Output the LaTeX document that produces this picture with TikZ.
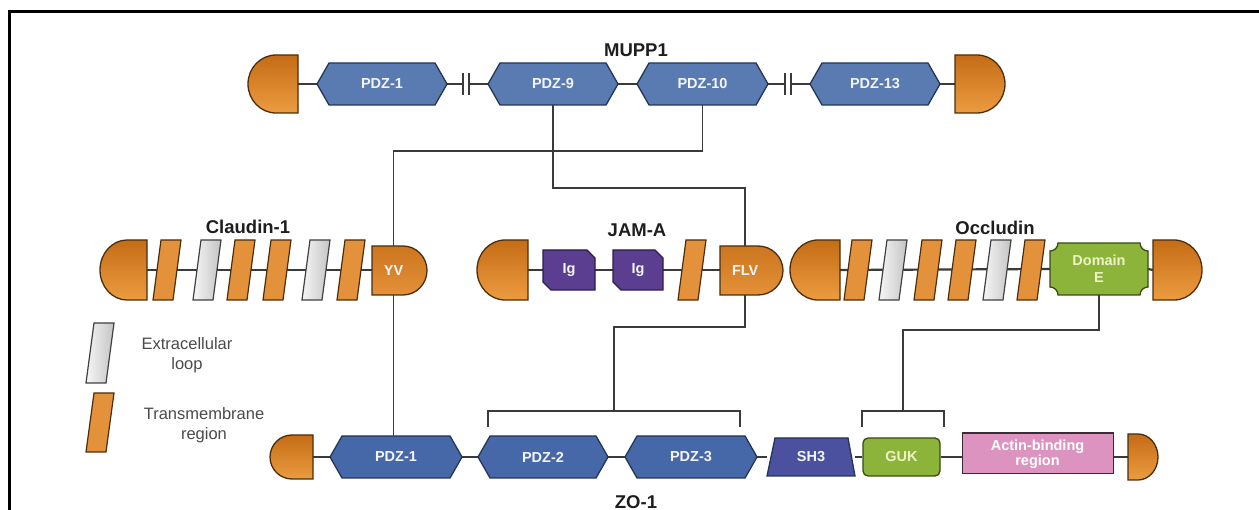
\documentclass[tikz,border=0pt]{standalone}
\usepackage{fontspec}
\setmainfont{Liberation Sans}
\usetikzlibrary{backgrounds}
\definecolor{orD}{HTML}{C46C16}
\definecolor{orL}{HTML}{EC9C40}
\definecolor{orB}{HTML}{4A2E0C}
\definecolor{orF}{HTML}{E3913A}
\definecolor{bluF}{HTML}{5A7BB1}
\definecolor{bluZ}{HTML}{4768A8}
\definecolor{bluB}{HTML}{243553}
\definecolor{purF}{HTML}{5B3E8F}
\definecolor{purB}{HTML}{2B1C4A}
\definecolor{shF}{HTML}{4B509F}
\definecolor{grnF}{HTML}{8DB43A}
\definecolor{grnB}{HTML}{3A4A16}
\definecolor{grnT}{HTML}{EEF2C4}
\definecolor{pnkF}{HTML}{DC93C0}
\definecolor{pnkB}{HTML}{3C2A34}
\definecolor{gryL}{HTML}{F6F6F6}
\definecolor{gryD}{HTML}{C4C4C4}
\definecolor{lnC}{HTML}{3A3A3A}
\definecolor{txC}{HTML}{1E1E1E}
\definecolor{lgC}{HTML}{4A4A4A}
\definecolor{bxT}{HTML}{F2F5FB}

\newcommand\capL[7]{% name,x1,x2,y1,y2,rx,style
  \pgfmathsetmacro\cYm{(#4+#5)/2}\pgfmathsetmacro\cRy{(#5-#4)/2}
  \path[#7] (#3,#4) -- (#2+#6,#4) .. controls (#2+0.448*#6,#4) and (#2,\cYm-0.552*\cRy) .. (#2,\cYm)
    .. controls (#2,\cYm+0.552*\cRy) and (#2+0.448*#6,#5) .. (#2+#6,#5) -- (#3,#5) -- cycle;
  \node[holdn, minimum width=#3-#2, minimum height=#5-#4] (#1) at ({(#2+#3)/2},\cYm) {};
}
\newcommand\capR[8]{% name,x1,x2,y1,y2,rx,text,style
  \pgfmathsetmacro\cYm{(#4+#5)/2}\pgfmathsetmacro\cRy{(#5-#4)/2}
  \path[#8] (#2,#4) -- (#3-#6,#4) .. controls (#3-0.448*#6,#4) and (#3,\cYm-0.552*\cRy) .. (#3,\cYm)
    .. controls (#3,\cYm+0.552*\cRy) and (#3-0.448*#6,#5) .. (#3-#6,#5) -- (#2,#5) -- cycle;
  \node[boxt, minimum width=#3-#2-#6/2, minimum height=#5-#4] (#1) at ({(#2+#3)/2-#6/4},\cYm) {#7};
}
\newcommand\hexb[7]{% name,x1,x2,y1,y2,style,text
  \pgfmathsetmacro\cYm{(#4+#5)/2}
  \path[#6] (#2,\cYm) -- (#2+12,#4) -- (#3-12,#4) -- (#3,\cYm) -- (#3-12,#5) -- (#2+12,#5) -- cycle;
  \node[boxt, minimum width=#3-#2, minimum height=#5-#4] (#1) at ({(#2+#3)/2},\cYm) {#7};
}
\newcommand\igb[5]{% name,x1,x2,y1,y2
  \path[igsty] (#2,#4) -- (#3-8,#4) -- (#3,#4+8) -- (#3,#5) -- (#2+8,#5) -- (#2,#5-8) -- cycle;
  \node[boxt, minimum width=#3-#2, minimum height=#5-#4] (#1) at ({(#2+#3)/2},{(#4+#5)/2}) {Ig};
}
\newcommand\tmbar[4]{% xc,y1,y2,style
  \path[#4] (#1-14,#3) -- (#1+6,#3) -- (#1+14,#2) -- (#1-6,#2) -- cycle;
}

\begin{document}
\begin{tikzpicture}[x=1pt,y=-1pt,
  capsty/.style={draw=orB, line width=1.3pt, top color=orD, bottom color=orL},
  capc/.style={draw=orB, line width=1.3pt, top color=orD!80!orL, bottom color=orF},
  hexM/.style={draw=bluB, line width=1.3pt, fill=bluF},
  hexZ/.style={draw=bluB, line width=1.3pt, fill=bluZ},
  tmo/.style={draw=orB, line width=1.2pt, fill=orF},
  tmg/.style={draw=black!75, line width=1.2pt, left color=gryL, right color=gryD},
  igsty/.style={draw=purB, line width=1.3pt, fill=purF},
  holdn/.style={inner sep=0pt, draw=none},
  boxt/.style={holdn, text=bxT, font=\bfseries\fontsize{14.5}{16}\selectfont},
  ttl/.style={text=txC, font=\bfseries\fontsize{18.5}{20}\selectfont},
  legt/.style={text=lgC, align=center, font=\fontsize{16.5}{20}\selectfont},
  bb/.style={draw=lnC, line width=2.2pt},
  conn/.style={draw=lnC, line width=1.6pt},
  tick/.style={draw=lnC, line width=1.6pt},
]
\useasboundingbox (0,0) rectangle (1259,510);

% ---------- MUPP1 ----------
\capL{m0}{248}{298}{55}{113}{28}{capsty}
\hexb{mp1}{317}{447}{63}{105}{hexM}{PDZ-1}
\hexb{mp9}{488}{618}{63}{105}{hexM}{PDZ-9}
\hexb{mp10}{637}{768}{63}{105}{hexM}{PDZ-10}
\hexb{mp13}{810}{940}{63}{105}{hexM}{PDZ-13}
\capR{m5}{955}{1005}{55}{113}{28}{}{capsty}
\coordinate (k1a) at (463,84); \coordinate (k1b) at (469,84);
\coordinate (k2a) at (785,84); \coordinate (k2b) at (791,84);
\foreach \k in {k1a,k1b,k2a,k2b} \draw[tick] (\k) ++(0,-11) -- ++(0,22);
\node[ttl] (lmupp) at (636,50) {MUPP1};

% ---------- Claudin-1 ----------
\capL{c0}{100}{147}{240}{300}{27}{capsty}
\tmbar{167}{240}{300}{tmo}
\tmbar{207}{240}{300}{tmg}
\tmbar{241}{240}{300}{tmo}
\tmbar{277}{240}{300}{tmo}
\tmbar{316}{240}{300}{tmg}
\tmbar{351}{240}{300}{tmo}
\capR{yv}{372}{427}{246}{295}{24}{YV}{capc}
\node[ttl] (lcla) at (248,227) {Claudin-1};

% ---------- JAM-A ----------
\capL{j0}{477}{528}{240}{300}{28}{capsty}
\igb{ig1}{543}{595}{250}{290}
\igb{ig2}{613}{663}{250}{290}
\tmbar{692}{240}{300}{tmo}
\capR{flv}{720}{783}{246}{295}{25}{FLV}{capc}
\node[ttl] (ljam) at (637,230) {JAM-A};

% ---------- Occludin ----------
\capL{o0}{790}{840}{240}{300}{28}{capsty}
\tmbar{858}{240}{300}{tmo}
\tmbar{893}{240}{300}{tmg}
\tmbar{928}{240}{300}{tmo}
\tmbar{962}{240}{300}{tmo}
\tmbar{997}{240}{300}{tmg}
\tmbar{1031}{240}{300}{tmo}
\path[draw=grnB, line width=1.3pt, fill=grnF]
  (1058,243) -- (1140,243) .. controls (1140,247.4) and (1143.6,251) .. (1148,251)
  -- (1148,287) .. controls (1143.6,287) and (1140,290.6) .. (1140,295)
  -- (1058,295) .. controls (1058,290.6) and (1054.4,287) .. (1050,287)
  -- (1050,251) .. controls (1054.4,251) and (1058,247.4) .. (1058,243) -- cycle;
\node[holdn, text=grnT, align=center, font=\bfseries\fontsize{14.5}{17}\selectfont,
  minimum width=98, minimum height=52] (dome) at (1099,269) {Domain\\E};
\capR{o7}{1153}{1202}{240}{300}{28}{}{capsty}
\node[ttl] (locc) at (995,228) {Occludin};

% ---------- legend ----------
\tmbar{100}{323}{383}{tmg}
\tmbar{100}{393}{452}{tmo}
\node[legt] (lg1) at (187,355) {Extracellular\\loop};
\node[legt] (lg2) at (204,425) {Transmembrane\\region};

% ---------- ZO-1 ----------
\capL{z0}{270}{313}{435}{479}{22}{capsty}
\hexb{zp1}{330}{462}{436}{478}{hexZ}{PDZ-1}
\hexb{zp2}{478}{608}{436}{478}{hexZ}{PDZ-2}
\hexb{zp3}{625}{757}{436}{478}{hexZ}{PDZ-3}
\path[draw=bluB, line width=1.3pt, fill=shF] (767,476) -- (855,476) -- (848,438) -- (775,438) -- cycle;
\node[boxt, minimum width=88, minimum height=38] (sh3) at (811,457) {SH3};
\node[holdn, draw=grnB, line width=1.3pt, fill=grnF, rounded corners=5pt, text=grnT,
  font=\bfseries\fontsize{14.5}{16}\selectfont, minimum width=77, minimum height=38] (guk) at (901.5,457) {GUK};
\node[holdn, draw=pnkB, line width=1pt, fill=pnkF, text=white, align=center,
  font=\bfseries\fontsize{14.5}{15}\selectfont, minimum width=151, minimum height=40] (act) at (1037.5,454) {Actin-binding\\region};
\draw[pnkB, line width=2pt] (act.north west) -- (act.north east);
\capR{z7}{1128}{1158}{434}{480}{20}{}{capsty}
\node[ttl] (lzo) at (636,502) {ZO-1};

% ---------- backbones ----------
\begin{scope}[on background layer]
\draw[bb] (m0.east) -- (mp1.west);
\draw[bb] (mp1.east) -- (k1a);
\draw[bb] (k1b) -- (mp9.west);
\draw[bb] (mp9.east) -- (mp10.west);
\draw[bb] (mp10.east) -- (k2a);
\draw[bb] (k2b) -- (mp13.west);
\draw[bb] (mp13.east) -- (m5.west);
\draw[bb] (c0.east) -- (c0.east -| yv.west);
\draw[bb] (j0.east) -- (ig1.west);
\draw[bb] (ig1.east) -- (ig2.west);
\draw[bb] (ig2.east) -- (ig2.east -| flv.west);
\draw[bb] (o0.east) -- (dome.west);
\draw[bb] (dome.east) -- (o7.west);
\draw[bb] (z0.east) -- (zp1.west);
\draw[bb] (zp1.east) -- (zp2.west);
\draw[bb] (zp2.east) -- (zp3.west);
\draw[bb] (zp3.east) -- (sh3.west);
\draw[bb] (sh3.east) -- (guk.west);
\draw[bb] (guk.east) -- (guk.east -| act.west);
\draw[bb] (z7.west -| act.east) -- (z7.west);
\end{scope}

% ---------- connectors ----------
\draw[conn] (mp10.south) -- ++(0,46) -| (yv.north);
\draw[conn] (mp9.south) -- ++(0,83) -| (flv.north);
\draw[conn] (yv.south) -- (yv.south |- zp1.north);
\coordinate (b1L) at (488,427); \coordinate (b1R) at (740,427); \coordinate (b1C) at (614,411);
\draw[conn] (b1L) -- ++(0,-16) -| (b1R);
\draw[conn] (flv.south) -- ++(0,32) -| (b1C);
\coordinate (b2L) at (862,427); \coordinate (b2R) at (944,427); \coordinate (b2C) at (903,411);
\draw[conn] (b2L) -- ++(0,-16) -| (b2R);
\draw[conn] (dome.south) -- ++(0,35) -| (b2C);

% ---------- frame ----------
\draw[black, line width=3pt] (9,510) -- (9,12) -- (1259,12);
\end{tikzpicture}
\end{document}
